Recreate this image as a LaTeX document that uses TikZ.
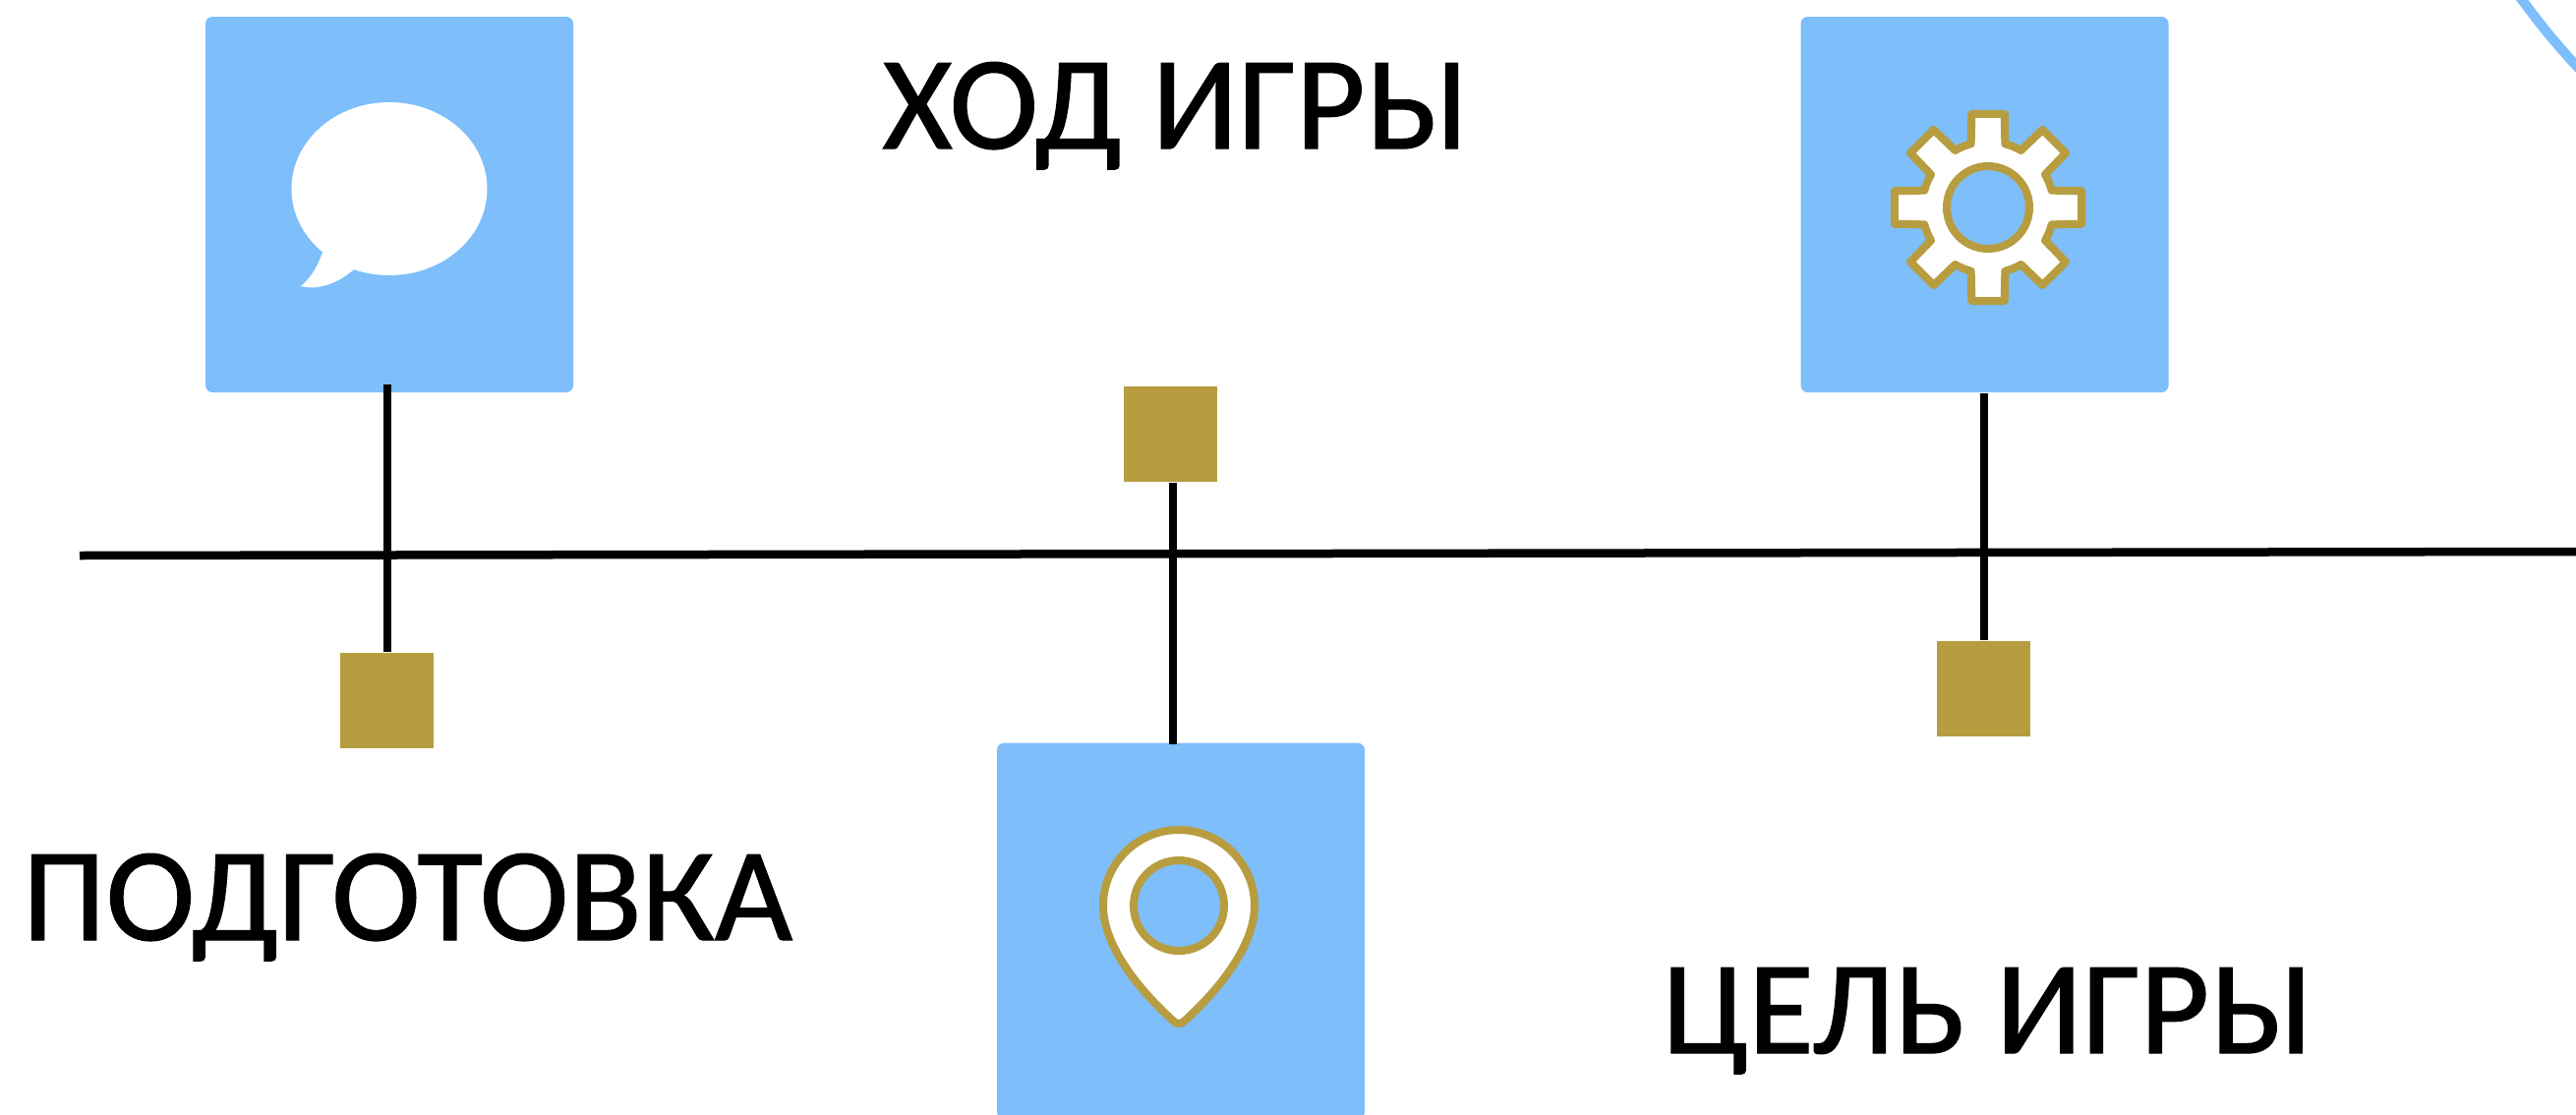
\documentclass[tikz,border=0pt]{standalone}
\usepackage{fontspec}
\setmainfont{Carlito}
\newfontfamily\labelfont{Carlito}[FakeBold=1,FakeStretch=1.01]
\usepackage{xcolor}
\definecolor{boxblue}{HTML}{7DBEFB}
\definecolor{gold}{HTML}{B79D3F}

\begin{document}
\begin{tikzpicture}[
    iconbox/.style={rectangle, fill=boxblue, draw=none, rounded corners=0.07cm, minimum width=3.74cm, minimum height=3.82cm, inner sep=0pt},
    marker/.style={rectangle, fill=gold, draw=none, minimum width=0.95cm, minimum height=0.97cm, inner sep=0pt},
    label/.style={font=\labelfont\fontsize{38.5}{40}\selectfont, anchor=base west, inner sep=0pt},
    line/.style={line width=0.085cm, black},
    icon/.style={fill=white, draw=gold, line width=0.08cm, line join=round},
    hole/.style={fill=boxblue, draw=gold, line width=0.08cm}
]
    \useasboundingbox (0,0) rectangle (26.2,11.33);
    % boxes
    \node[iconbox] (talk) at (3.96,9.25) {};
    \node[iconbox] (gear) at (20.185,9.25) {};
    \node[iconbox, anchor=north] (pin) at (12.01,3.78) {};
    % squares on the time line
    \node[marker] (markA) at (3.935,4.205) {};
    \node[marker] (markB) at (11.905,6.915) {};
    \node[marker] (markC) at (20.175,4.325) {};
    % labels
    \node[label] (prep) at (0.22,1.77) {ПОДГОТОВКА};
    \node[label] (game) at (8.97,9.82) {ХОД ИГРЫ};
    \node[label] (goal) at (16.9,0.62) {ЦЕЛЬ ИГРЫ};
    % time line
    \coordinate (start) at (0.81,5.68);
    \coordinate (end) at (26.2,5.72);
    \draw[line] (start) -- (end);
    \draw[line] ([xshift=0.005cm]markA.north) -- ([xshift=0.005cm,yshift=0.09cm]markA.north |- talk.south);
    \draw[line] ([xshift=0.025cm]markB.south) -- ([xshift=0.025cm,yshift=-0.02cm]markB.south |- pin.north);
    \draw[line] ([xshift=0.005cm]markC.north) -- ([xshift=0.005cm]markC.north |- gear.south);
    % speech bubble
    \fill[white] (3.96,9.41) ellipse (0.995 and 0.88);
    \fill[white] (3.28,8.76) .. controls (3.22,8.6) and (3.15,8.49) .. (3.06,8.42)
        .. controls (3.25,8.37) and (3.45,8.46) .. (3.6,8.59) -- (4,9) -- cycle;
    % cog wheel
    \draw[icon, shift={(20.22,9.22)}] (-15:0.67) \foreach \a in {0,45,...,315} {
        -- (\a-10:0.965) -- (\a+10:0.965) -- (\a+15:0.67)
        arc[start angle=\a+15, end angle=\a+30, radius=0.67] } -- cycle;
    \draw[hole] (20.22,9.22) circle (0.42);
    % map pin
    \draw[icon] (11.93,0.95) .. controls (11.6,1.25) and (11.22,1.7) .. (11.22,2.12)
        arc[start angle=180, end angle=0, radius=0.77]
        .. controls (12.76,1.7) and (12.38,1.25) .. (12.05,0.95)
        .. controls (12.01,0.91) and (11.97,0.91) .. (11.93,0.95) -- cycle;
    \draw[hole] (11.99,2.12) circle (0.46);
    % edge of a ring, upper right
    \draw[boxblue, line width=0.1cm] (25.6,11.4) .. controls (25.88,11.02) and (26.05,10.82) .. (26.3,10.56);
\end{tikzpicture}
\end{document}
